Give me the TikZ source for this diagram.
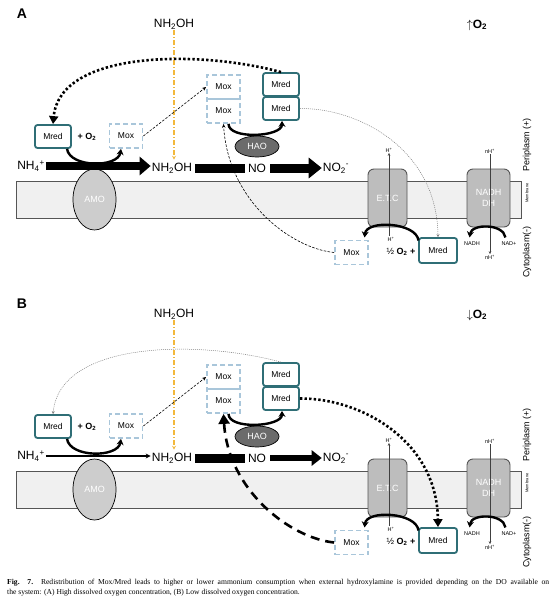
\documentclass[tikz,border=0pt]{standalone}
\usepackage{fontspec}
\setmainfont{Liberation Serif}
\setsansfont{Liberation Sans}
\usetikzlibrary{arrows.meta, shapes.geometric}

\definecolor{mredc}{HTML}{2F6E76}
\definecolor{moxc}{HTML}{A9C6DA}
\definecolor{hydc}{HTML}{F2B83C}
\definecolor{haoc}{HTML}{6B6B6B}
\definecolor{amoc}{HTML}{CDCDCD}
\definecolor{protc}{HTML}{BDBDBD}
\definecolor{membc}{HTML}{F0F0F0}
\definecolor{edgec}{HTML}{555555}

\tikzset{
  mred/.style={draw=mredc, line width=1.8pt, rounded corners=2.5pt, fill=white,
    minimum width=36pt, minimum height=23pt, inner sep=0pt,
    font=\sffamily\fontsize{8.5}{9}\selectfont},
  mox/.style={draw=moxc, line width=1.8pt, dash pattern=on 5pt off 3pt,
    minimum width=33pt, minimum height=24pt, inner sep=0pt,
    font=\sffamily\fontsize{8.5}{9}\selectfont},
  chem/.style={font=\sffamily\fontsize{12}{12}\selectfont, inner sep=1pt},
  enzyme/.style={ellipse, draw=black, line width=0.7pt, text=white, inner sep=0pt,
    font=\sffamily\fontsize{9}{9}\selectfont},
  protein/.style={draw=edgec, line width=0.9pt, fill=protc, rounded corners=6pt,
    text=white, align=center, inner sep=0pt, font=\sffamily\fontsize{9}{11}\selectfont},
  membrane/.style={draw=edgec, line width=0.9pt, fill=membc, minimum width=505pt,
    minimum height=37pt, inner sep=0pt},
  tiny/.style={font=\sffamily\fontsize{5.5}{6}\selectfont, inner sep=0.5pt},
  side/.style={rotate=90, font=\sffamily\fontsize{9}{9}\selectfont, inner sep=0pt},
  gline/.style={draw=black!75, line width=0.6pt, -{Stealth[length=3pt,width=2.5pt]}},
  hydline/.style={draw=hydc, line width=1.3pt, dash pattern=on 5pt off 2pt on 1pt off 2pt,
    -{Stealth[length=4pt,width=4pt]}},
  curvy/.style={line width=2.4pt, -{Stealth[length=6pt,width=7pt]}},
  bigdots/.style={line width=2.6pt, dash pattern=on 2.4pt off 2.2pt,
    -{Triangle[length=8pt,width=9pt]}},
  thindots/.style={draw=gray, line width=0.5pt, dash pattern=on 1pt off 1pt,
    -{Stealth[length=3pt,width=3pt]}},
  thindash/.style={line width=0.6pt, dash pattern=on 2.5pt off 1.5pt,
    -{Stealth[length=4pt,width=3.5pt]}},
  bigdash/.style={line width=2.6pt, dash pattern=on 9pt off 6pt,
    -{Triangle[length=10pt,width=11pt]}},
}

\begin{document}
\begin{tikzpicture}[x=1pt, y=-1pt, font=\sffamily]
\useasboundingbox (0,0) rectangle (554,610);

% both panels share the same cell layout
\foreach \p/\dy/\arr in {A/0/\uparrow, B/290/\downarrow}{
\begin{scope}[shift={(0,\dy)}]
  \node[membrane] (\p-mem) at (268.5,199.5) {};
  \node[enzyme, fill=amoc, minimum width=43pt, minimum height=61pt] (\p-amo) at (94.5,199.5) {AMO};
  \node[protein, minimum width=39pt, minimum height=58pt] (\p-etc) at (387.5,198) {E.T.C};
  \node[protein, minimum width=43pt, minimum height=58pt] (\p-ndh) at (488.5,198) {NADH\\DH};
  \node[enzyme, fill=haoc, minimum width=44pt, minimum height=21pt] (\p-hao) at (257,146.5) {HAO};

  \node[font=\sffamily\bfseries\fontsize{14}{14}\selectfont] (\p-lab) at (22,14) {\p};
  \node[font=\sffamily\fontsize{12}{12}\selectfont] (\p-o2) at (477,25) {$\arr$\textbf{O\textsubscript{2}}};

  \node[side] (\p-peri) at (527,145) {Periplasm (+)};
  \node[side, font=\sffamily\fontsize{4}{4}\selectfont] (\p-memlab) at (527,193) {Membrane};
  \node[side] (\p-cyto) at (527,252) {Cytoplasm(-)};

  \node[chem] (\p-nhtop) at (174,24) {NH\textsubscript{2}OH};
  \node[chem] (\p-nh4) at (31,166) {NH\textsubscript{4}\textsuperscript{+}};
  \node[chem] (\p-nh2oh) at (172,168) {NH\textsubscript{2}OH};
  \node[chem] (\p-no) at (257,168) {NO};
  \node[chem] (\p-no2) at (336,168) {NO\textsubscript{2}\textsuperscript{-}};

  \node[mox] (\p-moxT) at (223.5,87) {Mox};
  \node[mox] (\p-moxS) at (223.5,111) {Mox};
  \node[mred] (\p-mredT) at (281,84.5) {Mred};
  \node[mred] (\p-mredB) at (281,108.5) {Mred};
  \node[mred] (\p-mredL) at (53,136.5) {Mred};
  \node[font=\sffamily\bfseries\fontsize{9}{9}\selectfont] (\p-plus) at (87,137) {+ O\textsubscript{2}};
  \node[mox] (\p-moxL) at (126,136) {Mox};
  \node[mox] (\p-moxR) at (351.5,252.5) {Mox};
  \node[font=\sffamily\fontsize{9}{9}\selectfont] (\p-half) at (401,252) {½ \textbf{O\textsubscript{2} +}};
  \node[mred, minimum width=38pt, minimum height=25pt] (\p-mredR) at (438,250.5) {Mred};

  \node[tiny] (\p-hhi) at (389,150) {H\textsuperscript{+}};
  \node[tiny] (\p-hlo) at (391,239) {H\textsuperscript{+}};
  \node[tiny] (\p-nhi) at (490,151) {nH\textsuperscript{+}};
  \node[tiny] (\p-nlo) at (490,257) {nH\textsuperscript{+}};
  \node[tiny] (\p-nadh) at (472,244) {NADH};
  \node[tiny] (\p-nad) at (509,244) {NAD+};

  \draw[gline] (\p-hhi.south |- \p-hlo.north) -- (\p-hhi.south);
  \draw[gline] (\p-nhi.south) -- (\p-nlo.north);
  \draw[hydline, shorten >=2pt] (\p-nhtop.south) -- (\p-nhtop.south |- \p-nh2oh.north);
  \draw[line width=9pt, shorten <=2pt, shorten >=2pt] (\p-nh2oh.east) -- (\p-no.west);

  \draw[curvy] ([xshift=14pt]\p-mredL.south) .. controls +(3,19) and +(-3,19) .. ([xshift=-5pt]\p-moxL.south);
  \draw[curvy] ([xshift=5pt]\p-moxS.south) .. controls +(0,16) and +(0,16) .. ([xshift=1pt]\p-mredB.south);
  \draw[curvy] ([shift={(11,13)}]\p-etc.south east) .. controls +(-2,-18) and +(2,-18) .. ([shift={(-3,10)}]\p-etc.south west);
  \draw[curvy] ([shift={(-5,10)}]\p-ndh.south east) .. controls +(-2,-14) and +(2,-14) .. ([shift={(3,10)}]\p-ndh.south west);
  \draw[thindash] (\p-moxL.east) -- (\p-moxT.west);
\end{scope}
}

% panel A: high oxygen
\draw[line width=8pt, -{Triangle[length=11pt,width=18pt]}] (A-nh4.east) -- (A-nh4.east -| A-nh2oh.west);
\draw[line width=9pt, -{Triangle[length=13pt,width=20pt]}, shorten <=3pt] (A-no.east) -- (A-no2.west);
\draw[bigdots] (A-mredT.north) .. controls (200,50) and (60,50) .. (A-mredL.north);
\draw[thindots] (A-mredB.east) .. controls (360,108) and (437,150) .. (A-mredR.north);
\draw[thindash] (A-moxR.west) .. controls (290,248) and (228,200) .. (A-moxS.south);

% panel B: low oxygen
\draw[line width=1.4pt, -{Stealth[length=5pt,width=5pt]}] (B-nh4.east) -- (B-nh4.east -| B-nh2oh.west);
\draw[line width=6pt, -{Triangle[length=10pt,width=15pt]}, shorten <=3pt] (B-no.east) -- (B-no2.west);
\draw[thindots] (B-mredT.north) .. controls (200,340) and (60,340) .. (B-mredL.north);
\draw[bigdots] (B-mredB.east) .. controls (360,398) and (437,440) .. (B-mredR.north);
\draw[bigdash] (B-moxR.west) .. controls (290,538) and (228,490) .. (B-moxS.south);

\node[anchor=north west, text width=542pt, align=justify, inner sep=0pt,
  font=\rmfamily\fontsize{7.6}{10}\selectfont] (cap) at (7,579)
  {\textbf{Fig. 7.} Redistribution of Mox/Mred leads to higher or lower ammonium consumption when external hydroxylamine is provided depending on the DO available on\linebreak the system: (A) High dissolved oxygen concentration, (B) Low dissolved oxygen concentration.};
\end{tikzpicture}
\end{document}
